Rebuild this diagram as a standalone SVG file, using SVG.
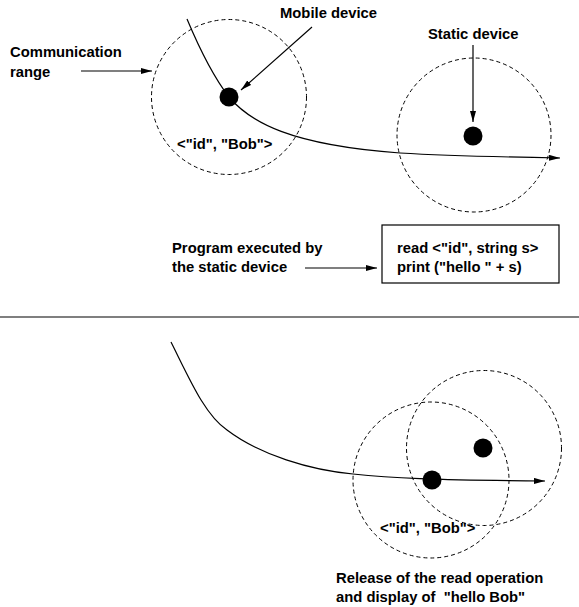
<svg xmlns="http://www.w3.org/2000/svg" width="579" height="607" viewBox="0 0 579 607">
<style>
text{font-family:"Liberation Sans",Arial,sans-serif;font-weight:bold;font-size:14.8px;fill:#000}
.range{fill:none;stroke:#000;stroke-width:1;stroke-dasharray:4 3}
.line{fill:none;stroke:#000;stroke-width:1.2}
.arr{fill:none;stroke:#000;stroke-width:1.2;marker-end:url(#ah)}
.dot{fill:#000}
</style>
<defs>
<marker id="ah" viewBox="0 0 11 6" refX="11" refY="3" markerWidth="11" markerHeight="6" markerUnits="userSpaceOnUse" orient="auto">
<path d="M0,0 L11,3 L0,6 Z" fill="#000"/>
</marker>
</defs>
<rect width="579" height="607" fill="#fff"/>
<g id="connectors">
<path class="arr" d="M187,19 C200,50 212,75 229,97 C250,122 290,145 400,153 C450,156 500,157 560,158"/>
<path class="arr" d="M312,27 L241,90"/>
<path class="arr" d="M473,45 L473,122"/>
<path class="arr" d="M81,71 L152,71"/>
<path class="arr" d="M305,268 L377,268"/>
<path class="arr" d="M171,342 C190,380 205,415 227,430 C260,455 310,470 353,474 C390,478 430,480 545,481"/>
</g>
<g id="mobile-top">
<circle class="range" cx="229" cy="97" r="77.5"/>
<circle class="dot" cx="229" cy="97" r="9.5"/>
<text x="177" y="149">&lt;"id", "Bob"&gt;</text>
</g>
<g id="static-top">
<circle class="range" cx="474" cy="135" r="77"/>
<circle class="dot" cx="473" cy="136" r="9.5"/>
</g>
<g id="label-comm">
<text x="10" y="57">Communication</text>
<text x="10" y="77">range</text>
</g>
<g id="label-mobile"><text x="280" y="18">Mobile device</text></g>
<g id="label-static"><text x="428" y="39">Static device</text></g>
<g id="label-program">
<text x="172" y="253">Program executed by</text>
<text x="172" y="272">the static device</text>
</g>
<g id="program-box">
<rect x="382" y="225" width="177" height="58" fill="none" stroke="#000" stroke-width="1.2"/>
<text x="397" y="253">read &lt;"id", string s&gt;</text>
<text x="397" y="272">print ("hello " + s)</text>
</g>
<line x1="0" y1="317" x2="579" y2="317" stroke="#555" stroke-width="1.5"/>
<g id="mobile-bottom">
<circle class="range" cx="431" cy="480" r="78"/>
<circle class="dot" cx="432" cy="480" r="9.5"/>
<text x="380" y="533">&lt;"id", "Bob"&gt;</text>
</g>
<g id="static-bottom">
<circle class="range" cx="484" cy="448" r="77.5"/>
<circle class="dot" cx="483" cy="448" r="9.5"/>
</g>
<g id="label-release">
<text x="336" y="583">Release of the read operation</text>
<text x="336" y="602" xml:space="preserve">and display of  "hello Bob"</text>
</g>
</svg>
